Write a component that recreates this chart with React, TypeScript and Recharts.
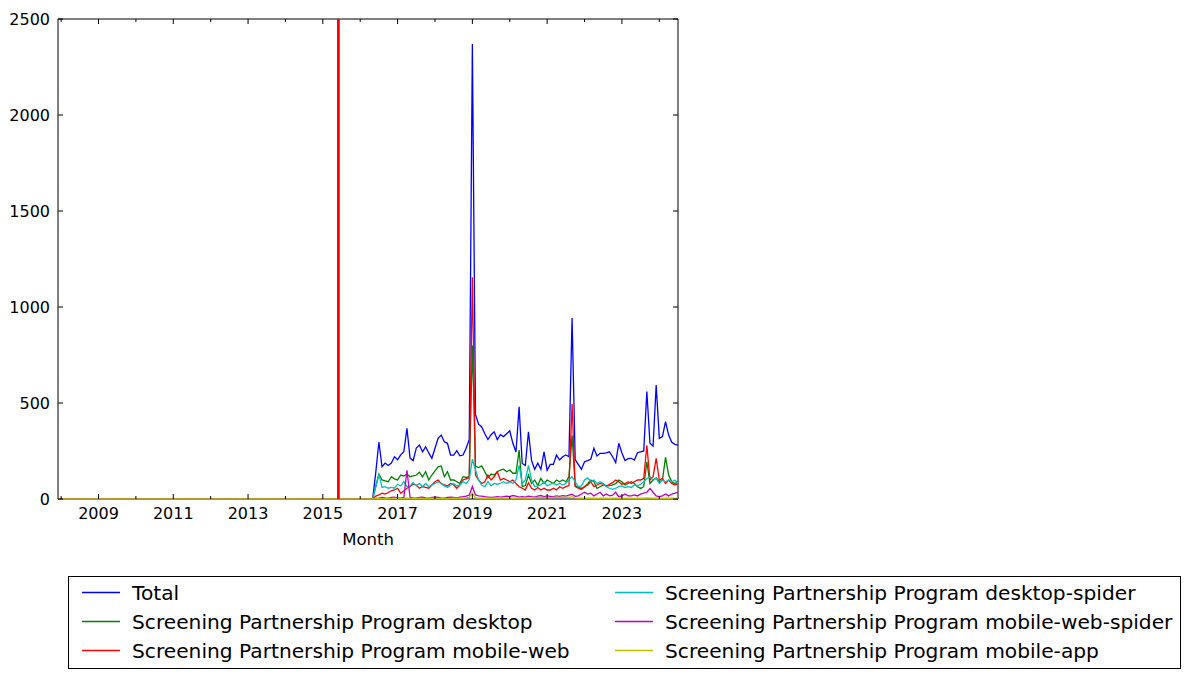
import { LineChart, Line, XAxis, YAxis, ReferenceLine, ReferenceArea } from 'recharts'

// monthly counts, May 2016 .. Jul 2024 (everything before is zero)
const FIRST_MONTH = 2007 + 11 / 12
const DATA_START = 2016 + 4 / 12
const MARKER_DATE = 2015 + 5 / 12
const X_MIN = 2007 + 11 / 12
const X_MAX = 2024.5

const TOTAL = [
  0, 140, 297, 168, 187, 175, 187, 220, 205, 230, 246, 368, 213, 200, 265, 281, 246, 272, 240, 212,
  264, 316, 333, 298, 290, 229, 229, 252, 225, 229, 264, 310, 2370, 440, 390, 375, 340, 310, 335, 350,
  310, 335, 325, 340, 355, 290, 245, 480, 185, 175, 350, 200, 155, 187, 155, 246, 150, 180, 180, 229,
  203, 220, 229, 220, 943, 205, 180, 155, 194, 200, 207, 264, 224, 238, 238, 240, 246, 220, 190, 290,
  240, 200, 210, 212, 203, 241, 246, 250, 560, 290, 275, 594, 316, 325, 403, 333, 295, 285, 281,
]
const DESKTOP = [
  0, 65, 130, 99, 94, 90, 116, 105, 99, 125, 120, 130, 116, 120, 125, 140, 116, 142, 99, 125,
  147, 168, 172, 116, 142, 99, 99, 90, 81, 116, 112, 116, 800, 172, 164, 172, 142, 110, 130, 125,
  142, 151, 155, 142, 151, 134, 134, 255, 64, 70, 125, 81, 99, 71, 107, 81, 99, 90, 81, 99,
  90, 99, 90, 116, 330, 70, 60, 55, 64, 80, 99, 90, 55, 64, 73, 68, 70, 73, 80, 99,
  90, 73, 81, 90, 81, 64, 55, 64, 194, 81, 99, 110, 90, 99, 217, 125, 90, 81, 90,
]
const MOBILE_WEB = [
  0, 15, 21, 30, 26, 34, 43, 47, 56, 30, 43, 56, 65, 77, 73, 56, 65, 60, 56, 73,
  90, 99, 81, 73, 68, 81, 73, 56, 73, 99, 105, 110, 1155, 125, 99, 81, 90, 125, 99, 116,
  142, 99, 107, 99, 90, 99, 81, 64, 56, 47, 85, 56, 47, 60, 47, 56, 47, 47, 56, 47,
  64, 56, 64, 70, 495, 64, 56, 50, 64, 73, 90, 64, 73, 81, 77, 68, 77, 85, 99, 90,
  77, 81, 90, 81, 90, 99, 99, 107, 280, 99, 116, 212, 99, 107, 81, 99, 81, 73, 81,
]
const DESKTOP_SPIDER = [
  0, 65, 130, 60, 64, 56, 60, 56, 77, 68, 90, 64, 68, 86, 68, 81, 64, 81, 64, 73,
  81, 90, 81, 68, 60, 73, 81, 68, 73, 90, 81, 100, 207, 151, 99, 73, 64, 90, 68, 81,
  77, 81, 90, 81, 90, 81, 100, 175, 81, 99, 175, 99, 64, 68, 73, 90, 68, 77, 81, 73,
  81, 73, 81, 100, 116, 90, 64, 68, 99, 110, 90, 99, 81, 90, 81, 64, 56, 50, 56, 64,
  68, 60, 64, 60, 73, 68, 77, 90, 107, 116, 99, 107, 81, 99, 90, 99, 90, 99, 81,
]
const MOBILE_WEB_SPIDER = [
  0, 3, 5, 8, 6, 5, 8, 10, 6, 5, 8, 150, 8, 5, 6, 8, 10, 6, 5, 8,
  10, 8, 6, 5, 8, 10, 8, 6, 10, 12, 15, 20, 65, 21, 16, 15, 12, 10, 8, 10,
  12, 10, 12, 15, 12, 18, 15, 10, 12, 10, 15, 12, 10, 15, 18, 12, 16, 14, 12, 16,
  14, 18, 15, 20, 25, 14, 16, 26, 35, 26, 30, 16, 26, 35, 16, 26, 16, 20, 35, 12,
  16, 26, 16, 16, 21, 16, 26, 30, 35, 55, 35, 16, 12, 16, 26, 16, 26, 30, 35,
]
const MOBILE_APP = [
  0, 2, 3, 2, 3, 2, 3, 4, 3, 2, 3, 4, 3, 2, 3, 4, 3, 2, 3, 4,
  3, 3, 4, 3, 2, 3, 4, 3, 4, 5, 6, 8, 30, 6, 5, 4, 5, 4, 5, 4,
  5, 6, 5, 4, 5, 4, 5, 6, 5, 4, 6, 5, 6, 8, 7, 8, 6, 7, 8, 9,
  8, 10, 8, 9, 12, 6, 5, 4, 5, 4, 5, 4, 3, 4, 5, 4, 3, 4, 5, 4,
  3, 4, 5, 4, 3, 4, 5, 4, 6, 5, 4, 5, 4, 3, 4, 5, 4, 3, 4,
]

const YEAR_TICKS = [2008, 2009, 2010, 2011, 2012, 2013, 2014, 2015, 2016, 2017, 2018, 2019, 2020, 2021, 2022, 2023, 2024]
const Y_TICKS = [0, 500, 1000, 1500, 2000, 2500]

const SERIES = [
  { key: 'total', name: 'Total', color: '#0000ff', values: TOTAL },
  { key: 'desktop', name: 'Screening Partnership Program desktop', color: '#008000', values: DESKTOP },
  { key: 'mobileWeb', name: 'Screening Partnership Program mobile-web', color: '#ff0000', values: MOBILE_WEB },
  { key: 'desktopSpider', name: 'Screening Partnership Program desktop-spider', color: '#00bfbf', values: DESKTOP_SPIDER },
  { key: 'mobileWebSpider', name: 'Screening Partnership Program mobile-web-spider', color: '#bf00bf', values: MOBILE_WEB_SPIDER },
  { key: 'mobileApp', name: 'Screening Partnership Program mobile-app', color: '#bfbf00', values: MOBILE_APP },
]

const FONT = '"DejaVu Sans", sans-serif'
const PLOT_TOP = 19
const PLOT_RIGHT = 678

const first: Record<string, number> = { t: FIRST_MONTH }
SERIES.forEach((s) => (first[s.key] = 0))
const data = [
  first,
  ...TOTAL.map((_, i) => {
    const row: Record<string, number> = { t: DATA_START + i / 12 }
    SERIES.forEach((s) => (row[s.key] = s.values[i]))
    return row
  }),
]

function XTick({ x, y, payload }: any) {
  const labeled = payload.value % 2 === 1
  const len = labeled ? 5 : 3
  return (
    <g>
      <line x1={x} x2={x} y1={y} y2={y - len} stroke="#000" />
      <line x1={x} x2={x} y1={PLOT_TOP} y2={PLOT_TOP + len} stroke="#000" />
      {labeled && (
        <text x={x} y={y + 20} textAnchor="middle" fontSize={16} fontFamily={FONT} fill="#000">
          {payload.value}
        </text>
      )}
    </g>
  )
}

function YTick({ x, y, payload }: any) {
  return (
    <g>
      <line x1={x} x2={x + 5} y1={y} y2={y} stroke="#000" />
      <line x1={PLOT_RIGHT} x2={PLOT_RIGHT - 5} y1={y} y2={y} stroke="#000" />
      <text x={x - 8} y={y + 6} textAnchor="end" fontSize={16} fontFamily={FONT} fill="#000">
        {payload.value}
      </text>
    </g>
  )
}

function LegendBox() {
  const cols = [SERIES.slice(0, 3), SERIES.slice(3)]
  return (
    <svg
      width={1114}
      height={94}
      style={{ position: 'absolute', left: 68, top: 576, fontFamily: FONT, fontSize: 20.2 }}
    >
      <rect x={0.5} y={0.5} width={1112} height={92} fill="#fff" stroke="#000" />
      {cols.map((col, ci) =>
        col.map((s, ri) => {
          const lx = ci === 0 ? 14 : 547
          const ly = 16.5 + ri * 29
          return (
            <g key={s.key}>
              <line x1={lx} x2={lx + 38} y1={ly} y2={ly} stroke={s.color} strokeWidth={1.4} />
              <text x={lx + 50} y={ly + 7} fill="#000">
                {s.name}
              </text>
            </g>
          )
        })
      )}
    </svg>
  )
}

export default function App() {
  return (
    <div style={{ position: 'absolute', left: 0, top: 0, width: 1190, height: 679, background: '#fff' }}>
      <LineChart width={1190} height={679} data={data} margin={{ top: 19, right: 512, bottom: 130, left: 8 }}>
        <ReferenceArea x1={X_MIN} x2={X_MAX} y1={0} y2={2500} fill="none" stroke="#000" strokeWidth={1} ifOverflow="visible" />
        <XAxis
          type="number"
          dataKey="t"
          domain={[X_MIN, X_MAX]}
          ticks={YEAR_TICKS}
          allowDataOverflow
          height={50}
          tickSize={0}
          tickMargin={0}
          tickLine={false}
          axisLine={false}
          interval={0}
          tick={(p: any) => <XTick {...p} />}
          label={{ value: 'Month', position: 'insideBottom', offset: 4, fontSize: 16.5, fontFamily: FONT, fill: '#000' }}
        />
        <YAxis
          type="number"
          domain={[0, 2500]}
          ticks={Y_TICKS}
          width={50}
          tickSize={0}
          tickMargin={0}
          tickLine={false}
          axisLine={false}
          interval={0}
          tick={(p: any) => <YTick {...p} />}
        />
        {SERIES.map((s) => (
          <Line
            key={s.key}
            type="linear"
            dataKey={s.key}
            name={s.name}
            stroke={s.color}
            strokeWidth={1.3}
            dot={false}
            activeDot={false}
            isAnimationActive={false}
          />
        ))}
        <ReferenceLine x={MARKER_DATE} stroke="#ff0000" strokeWidth={2.8} />
      </LineChart>
      <LegendBox />
    </div>
  )
}
